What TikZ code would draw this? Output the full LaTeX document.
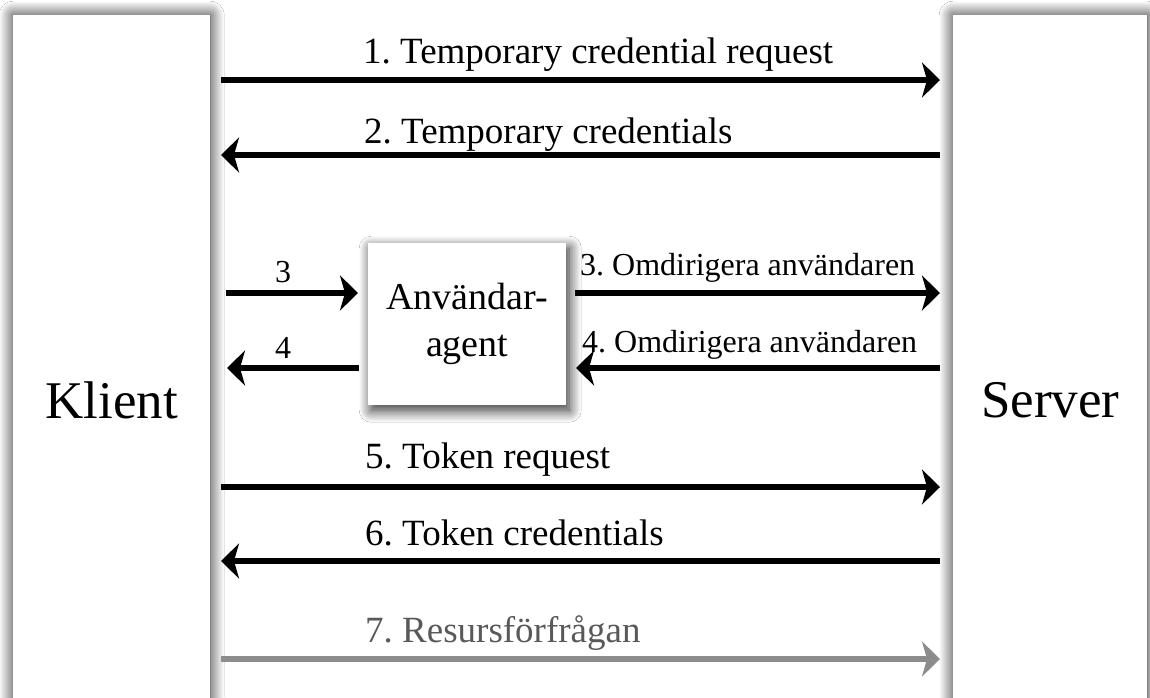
\documentclass[tikz,border=0pt]{standalone}
\usepackage{fontspec}
\setmainfont{Liberation Serif}
\usetikzlibrary{shadows.blur,arrows.meta}
\frenchspacing
\tikzset{
  colbox/.style={fill=white, draw=none, blur shadow={shadow xshift=0pt, shadow yshift=0pt, shadow blur radius=14pt, shadow opacity=90, shadow blur steps=24}, inner sep=0pt},
  agentbox/.style={fill=white, draw=none, blur shadow={shadow xshift=3pt, shadow yshift=-5pt, shadow blur radius=12pt, shadow opacity=85, shadow blur steps=20}, inner sep=0pt, align=center, font=\fontsize{38}{47}\selectfont},
  arr/.style={line width=5.5pt, -{Stealth[length=18pt,width=35pt,inset=5pt]}},
  grayarr/.style={arr, draw=gray!90},
  lbl/.style={inner sep=0pt, font=\fontsize{37}{40}\selectfont},
  slbl/.style={inner sep=0pt, font=\fontsize{32}{36}\selectfont},
  bigtxt/.style={font=\fontsize{53}{56}\selectfont}
}
\begin{document}
\begin{tikzpicture}[x=1pt,y=-1pt]
\useasboundingbox (0,0) rectangle (1150,697);
\fill[white] (0,0) rectangle (1150,697);
% columns
\node[colbox, minimum width=197pt, minimum height=770pt, anchor=north west, bigtxt] (K) at (13,15) {Klient};
\node[colbox, minimum width=194pt, minimum height=770pt, anchor=north west, bigtxt] (S) at (953,15) {Server};
% agent
\node[agentbox, minimum width=198pt, minimum height=162pt, anchor=north west] (A) at (368,243) {Användar-\\agent};
% coordinates for connector ends
\coordinate (k1) at (221,80);  \coordinate (s1) at (940,80);
\coordinate (k2) at (221,155); \coordinate (s2) at (940,155);
\coordinate (k3) at (226,293); \coordinate (a3) at (358,293);
\coordinate (b3) at (575,293); \coordinate (s3) at (940,293);
\coordinate (k4) at (227,368); \coordinate (a4) at (359,368);
\coordinate (b4) at (576,368); \coordinate (s4) at (940,368);
\coordinate (k5) at (221,487); \coordinate (s5) at (940,487);
\coordinate (k6) at (221,561); \coordinate (s6) at (940,561);
\coordinate (k7) at (221,659); \coordinate (s7) at (940,659);
% arrows
\draw[arr] (k1) -- (s1);
\draw[arr] (s2) -- (k2);
\draw[arr] (k3) -- (a3);
\draw[arr] (b3) -- (s3);
\draw[arr] (a4) -- (k4);
\draw[arr] (s4) -- (b4);
\draw[arr] (k5) -- (s5);
\draw[arr] (s6) -- (k6);
\draw[grayarr] (k7) -- (s7);
% labels
\node[lbl, anchor=base west] (l1) at (363,63) {1. Temporary credential request};
\node[lbl, anchor=base west] (l2) at (364,143) {2. Temporary credentials};
\node[slbl, anchor=base] (l3s) at (283,282) {3};
\node[slbl, anchor=base] (l4s) at (283,358) {4};
\node[slbl, anchor=base west] (l3) at (580,275) {3. Omdirigera användaren};
\node[slbl, anchor=base west] (l4) at (582,352) {4. Omdirigera användaren};
\node[lbl, anchor=base west] (l5) at (365,468) {5. Token request};
\node[lbl, anchor=base west] (l6) at (365,545) {6. Token credentials};
\node[lbl, anchor=base west, text=black!65] (l7) at (365,642) {7. Resursförfrågan};
\end{tikzpicture}
\end{document}
